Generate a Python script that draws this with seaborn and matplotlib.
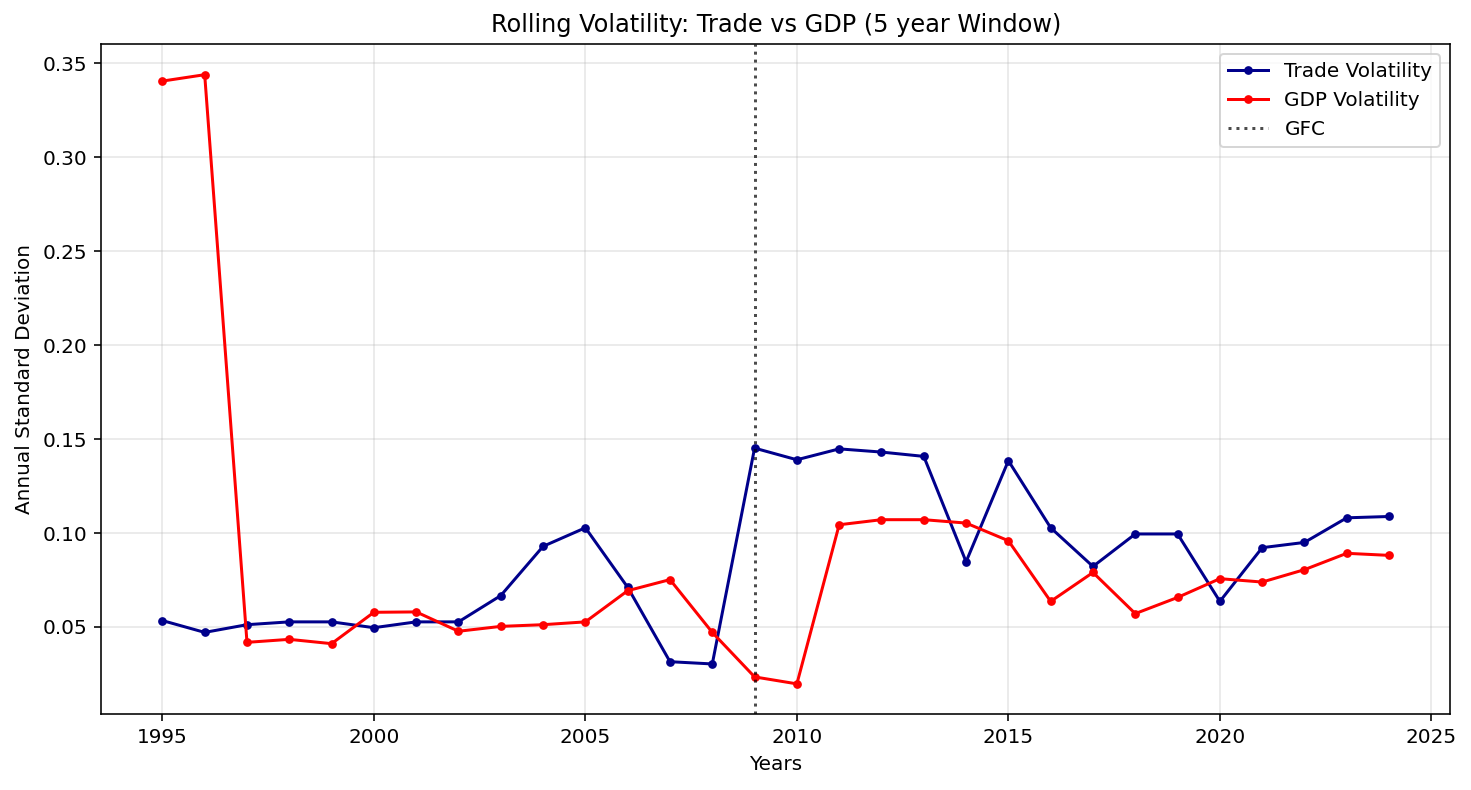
import numpy as np
import pandas as pd
import seaborn as sns
import matplotlib
matplotlib.use("Agg")
import matplotlib.pyplot as plt

# Rolling 5-year volatility
years = list(range(1995, 2025))

trade_vol = [0.0534, 0.0471, 0.0512, 0.0527, 0.0527, 0.0496, 0.0527, 0.0527,
             0.0667, 0.0929, 0.1028, 0.0711, 0.0315, 0.0303, 0.1452, 0.1390,
             0.1448, 0.1431, 0.1408, 0.0847, 0.1385, 0.1028, 0.0822, 0.0995,
             0.0995, 0.0636, 0.0922, 0.0950, 0.1081, 0.1088]

gdp_vol = [0.3406, 0.3440, 0.0418, 0.0434, 0.0411, 0.0578, 0.0580, 0.0477,
           0.0503, 0.0512, 0.0527, 0.0693, 0.0752, 0.0471, 0.0234, 0.0197,
           0.1044, 0.1071, 0.1071, 0.1053, 0.0959, 0.0636, 0.0790, 0.0571,
           0.0657, 0.0757, 0.0739, 0.0805, 0.0892, 0.0881]

gfc_year = 2009

df = pd.DataFrame({"Year": years, "Trade": trade_vol, "GDP": gdp_vol})

fig, ax = plt.subplots(figsize=(1471 / 144, 790 / 144), dpi=144)
fig.subplots_adjust(left=0.0687, right=0.986, top=0.944, bottom=0.0958)

sns.lineplot(data=df, x="Year", y="Trade", ax=ax, color="darkblue", marker="o",
             markersize=3.6, markeredgecolor="darkblue", linewidth=1.5,
             label="Trade Volatility")
sns.lineplot(data=df, x="Year", y="GDP", ax=ax, color="red", marker="o",
             markersize=3.6, markeredgecolor="red", linewidth=1.5,
             label="GDP Volatility")
ax.axvline(gfc_year, color="black", linestyle=":", alpha=0.7, linewidth=1.5, label="GFC")

ax.set_title("Rolling Volatility: Trade vs GDP (5 year Window)")
ax.set_xlabel("Years")
ax.set_ylabel("Annual Standard Deviation")
ax.grid(True, alpha=0.3)
ax.legend(loc="upper right")

fig.savefig("out.png", dpi=144)
